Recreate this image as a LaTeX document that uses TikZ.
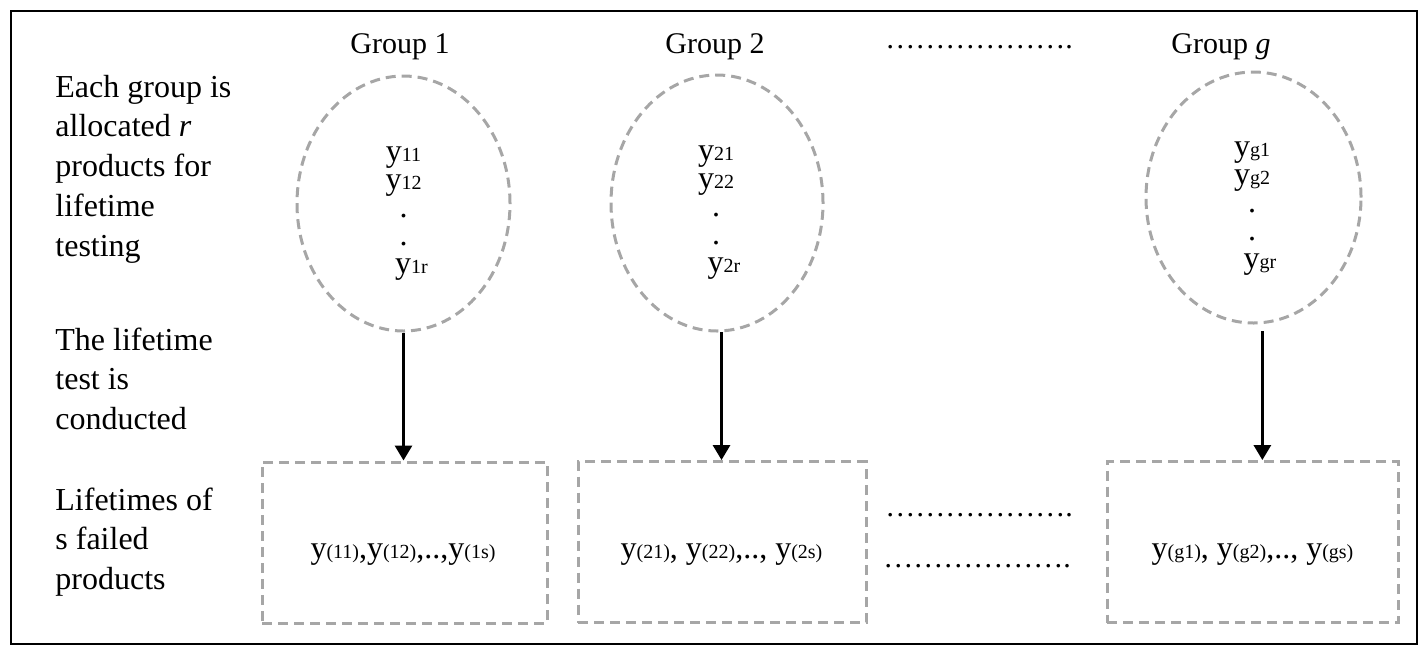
\documentclass[tikz,border=0pt]{standalone}
\usepackage{fontspec}
\setmainfont{Liberation Serif}
\usetikzlibrary{shapes.geometric,arrows.meta}
\definecolor{dgray}{RGB}{166,166,166}
\newcommand\ysb[1]{y{\fontsize{10}{12}\selectfont #1}}
\newcommand\mainsz{\fontsize{16}{19.9}\selectfont}
\newcommand\hdrsz{\fontsize{15}{18}\selectfont}
\newcommand\cellsz{\fontsize{16}{14.1}\selectfont}
\newcommand\stackL[1]{\begin{tabular}[t]{@{}l@{}}#1\end{tabular}}
\newcommand\stackC[1]{\begin{tabular}[t]{@{}c@{}}#1\end{tabular}}
\tikzset{
  dashgray/.style={draw=dgray, line width=1.5pt, dash pattern=on 5pt off 3pt},
  grpell/.style={ellipse, dashgray, inner sep=0pt},
  resbox/.style={rectangle, dashgray, inner sep=0pt, minimum height=80.5pt},
  arr/.style={line width=1.5pt, -{Triangle[length=7.5pt,width=8.5pt]}},
  lbl/.style={anchor=base west, inner sep=0pt, font=\mainsz},
  hdr/.style={anchor=base, inner sep=0pt, font=\hdrsz},
  cell/.style={anchor=base, inner sep=0pt, font=\cellsz},
  res/.style={anchor=base, inner sep=0pt, font=\fontsize{16}{19}\selectfont},
}
\begin{document}
\begin{tikzpicture}[x=0.5pt, y=-0.5pt]
\useasboundingbox (0,0) rectangle (1427,655);
\draw[line width=1pt] (11,11) rectangle (1417,644);

% headers
\node (h1) [hdr] at (400,53) {Group 1};
\node (h2) [hdr] at (715,53) {Group 2};
\node (hd) [hdr] at (979,48) {……………….};
\node (h3) [hdr] at (1221,53) {Group \textit{g}};

% left labels
\node (l1) [lbl] at (55,97) {\stackL{Each group is\\allocated \textit{r}\\products for\\lifetime\\testing}};
\node (l2) [lbl] at (55,350) {\stackL{The lifetime\\test is\\conducted}};
\node (l3) [lbl] at (55,510) {\stackL{Lifetimes of\\s failed\\products}};

% ellipses
\node (e1) [grpell, minimum width=106.5pt, minimum height=127.5pt] at (403.5,203.5) {};
\node (e2) [grpell, minimum width=106pt, minimum height=128pt] at (717,203) {};
\node (e3) [grpell, minimum width=107.5pt, minimum height=125.5pt] at (1253.5,197.5) {};

\node (t1) [cell] at (403.5,161) {\stackC{\ysb{11}\\\ysb{12}\\.\\.\\\hspace*{0.5em}\ysb{1r}}};
\node (t2) [cell] at (716,160) {\stackC{\ysb{21}\\\ysb{22}\\.\\.\\\hspace*{0.5em}\ysb{2r}}};
\node (t3) [cell] at (1252,156) {\stackC{\ysb{g1}\\\ysb{g2}\\.\\.\\\hspace*{0.5em}\ysb{gr}}};

% result boxes
\node (b1) [resbox, minimum width=142.5pt] at (404.5,542.5) {};
\node (b2) [resbox, minimum width=144pt] at (722,542) {};
\node (b3) [resbox, minimum width=145.5pt] at (1252.5,542) {};

\node (r1) [res] at (403,558) {\ysb{(11)},\ysb{(12)},..,\ysb{(1s)}};
\node (r2) [res] at (721.5,558) {\ysb{(21)}, \ysb{(22)},.., \ysb{(2s)}};
\node (r3) [res] at (1252.5,558) {\ysb{(g1)}, \ysb{(g2)},.., \ysb{(gs)}};

\node (d1) [hdr] at (979,516) {……………….};
\node (d2) [hdr] at (977,567) {……………….};

% arrows
\draw[arr] (e1.south) -- (e1.south |- b1.north);
\draw[arr] (e2.-88) -- (e2.-88 |- b2.north);
\draw[arr, shorten <=3.5pt] (e3.-86) -- (e3.-86 |- b3.north);
\end{tikzpicture}
\end{document}
